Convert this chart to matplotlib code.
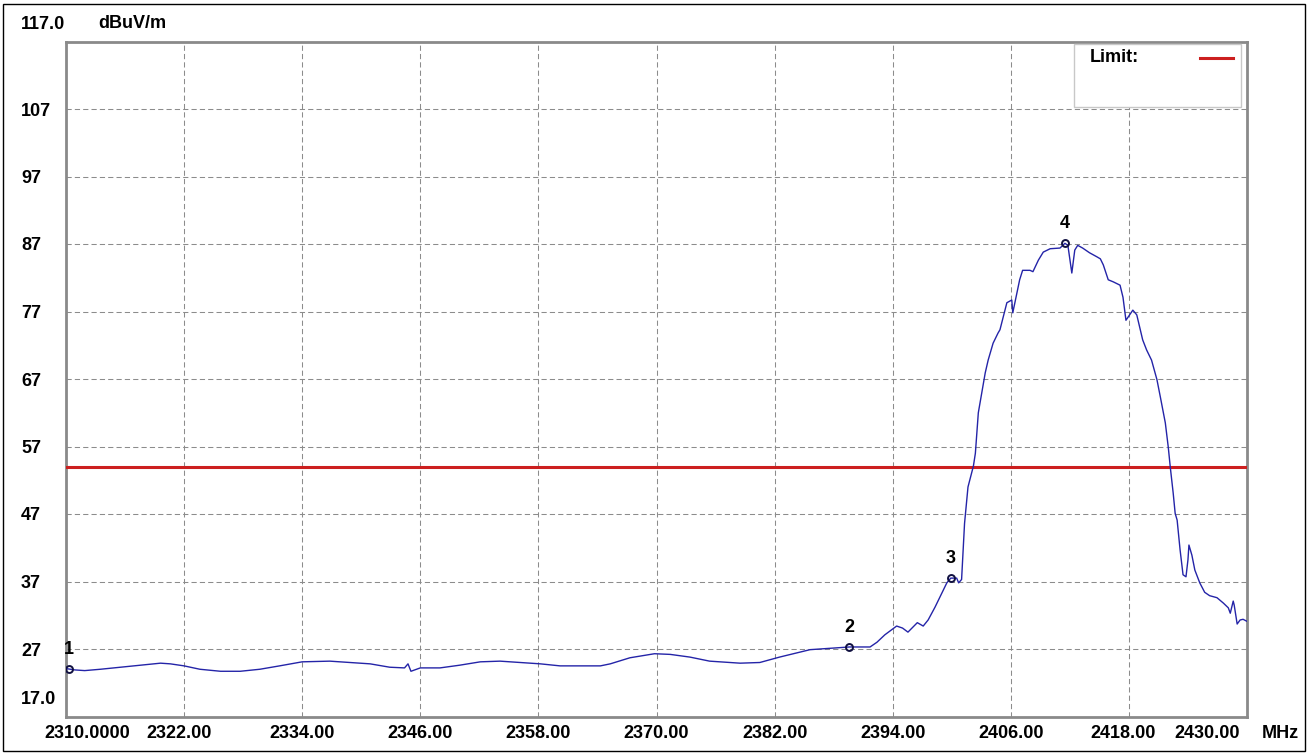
import matplotlib
matplotlib.use("Agg")
import matplotlib.pyplot as plt
import matplotlib.transforms as mtransforms
from matplotlib.patches import Rectangle

# ---------------- data ----------------
freq_mhz = [2310.0, 2310.9, 2311.9, 2313.5, 2315.5, 2317.5, 2319.6, 2320.6, 2322.0,
            2323.6, 2325.7, 2327.7, 2329.7, 2331.7, 2334.0, 2336.8, 2338.9, 2340.9,
            2342.9, 2344.4, 2344.75, 2345.05, 2346.0, 2348.0, 2350.0, 2352.1, 2354.1,
            2356.1, 2358.2, 2360.2, 2364.3, 2365.3, 2367.3, 2369.8, 2371.4, 2373.4,
            2375.4, 2378.5, 2380.5, 2382.5, 2385.6, 2387.6, 2389.6, 2391.7, 2392.4,
            2393.2, 2394.4, 2395.0, 2395.55, 2396.5, 2397.1, 2397.6, 2398.3, 2399.0,
            2399.5, 2399.9, 2400.5, 2400.7, 2401.0, 2401.3, 2401.65, 2402.2, 2402.4,
            2402.7, 2403.1, 2403.4, 2403.7, 2404.2, 2404.7, 2404.9, 2405.6, 2406.1,
            2406.2, 2406.9, 2407.2, 2407.95, 2408.25, 2408.8, 2409.3, 2410.0, 2411.0,
            2411.5, 2411.8, 2412.2, 2412.5, 2412.8, 2413.3, 2414.0, 2414.75, 2415.1,
            2415.4, 2415.9, 2416.4, 2417.1, 2417.4, 2417.7, 2418.4, 2418.8, 2419.4,
            2419.8, 2420.3, 2420.85, 2421.2, 2421.7, 2422.0, 2422.2, 2422.5, 2422.7,
            2422.9, 2423.2, 2423.5, 2423.8, 2424.0, 2424.1, 2424.4, 2424.7, 2425.2,
            2425.7, 2426.2, 2426.95, 2427.6, 2428.1, 2428.3, 2428.6, 2428.7, 2429.0,
            2429.3, 2429.6, 2430.0]
level_dbuv = [24.1, 23.9, 23.8, 24.0, 24.3, 24.6, 24.9, 24.8, 24.5,
              24.0, 23.7, 23.7, 24.0, 24.5, 25.1, 25.2, 25.0, 24.8,
              24.3, 24.2, 24.8, 23.7, 24.2, 24.2, 24.6, 25.1, 25.2,
              25.0, 24.8, 24.5, 24.5, 24.8, 25.7, 26.3, 26.2, 25.8,
              25.2, 24.9, 25.0, 25.8, 26.9, 27.1, 27.3, 27.3, 28.0,
              29.1, 30.4, 30.1, 29.5, 30.9, 30.4, 31.3, 33.2, 35.3,
              36.8, 37.5, 37.5, 36.8, 37.3, 45.6, 51.0, 54.1, 56.0,
              62.0, 65.4, 67.9, 69.8, 72.3, 73.8, 74.3, 78.3, 78.7,
              76.8, 81.7, 83.1, 83.1, 82.9, 84.6, 85.8, 86.3, 86.4,
              87.1, 86.8, 82.7, 86.1, 86.8, 86.4, 85.7, 85.1, 84.8,
              83.9, 81.7, 81.4, 80.9, 79.1, 75.7, 77.2, 76.5, 72.8,
              71.3, 69.8, 66.9, 64.3, 60.5, 56.9, 54.0, 50.1, 47.1,
              46.1, 41.7, 38.0, 37.7, 40.2, 42.4, 40.9, 38.7, 36.8,
              35.4, 34.9, 34.6, 33.8, 33.1, 32.3, 34.1, 33.5, 30.7,
              31.3, 31.4, 31.1]

limit_level = 54.0
limit_label = "Limit:"

marker_ids = ["1", "2", "3", "4"]
marker_freq = [2310.3, 2389.6, 2399.9, 2411.5]
marker_level = [24.0, 27.3, 37.5, 87.1]

xticks = [2310, 2322, 2334, 2346, 2358, 2370, 2382, 2394, 2406, 2418, 2430]
xtick_labels = ["2310.0000", "2322.00", "2334.00", "2346.00", "2358.00", "2370.00",
                "2382.00", "2394.00", "2406.00", "2418.00", "2430.00"]
yticks = [17, 27, 37, 47, 57, 67, 77, 87, 97, 107, 117]
ytick_labels = ["17.0", "27", "37", "47", "57", "67", "77", "87", "97", "107", "117.0"]
x_unit = "MHz"
y_unit = "dBuV/m"

# ---------------- figure ----------------
W, H = 1312, 754
fig = plt.figure(figsize=(W / 100, H / 100), dpi=100)
fig.patch.set_facecolor("white")

ax = fig.add_axes([66 / W, (H - 716.5) / H, 1181 / W, 675 / H])
ax.set_xlim(2310, 2430)
ax.set_ylim(17, 117)

font = dict(family=["Liberation Sans", "DejaVu Sans"], size=13, weight="bold")

# grid
grid_kw = dict(color="#8c8c8c", lw=0.75, ls=(0, (5, 3)), zorder=1)
for xv in xticks[1:-1]:
    ax.axvline(xv, **grid_kw)
for yv in yticks[1:-1]:
    ax.axhline(yv, **grid_kw)

# limit
ax.axhline(limit_level, color="#cc1f1f", lw=2.2, zorder=3)

# trace
ax.plot(freq_mhz, level_dbuv, color="#2424a8", lw=1.0, zorder=4)

# markers
ax.plot(marker_freq, marker_level, ls="none", marker="o", ms=5, mfc="none",
        mec="#101040", mew=1.4, zorder=5)
for mid, fx, ly in zip(marker_ids, marker_freq, marker_level):
    ax.annotate(mid, (fx, ly), xytext=(0, 14), textcoords="offset points",
                ha="center", va="center", color="black", zorder=6, **font)

# spines
for sp in ax.spines.values():
    sp.set_color("#8a8a8a")
    sp.set_linewidth(2.0)

# ticks
ax.set_xticks(xticks, labels=xtick_labels, **font)
ax.set_yticks(yticks, labels=ytick_labels, **font)
ax.tick_params(axis="both", length=0)
ax.tick_params(axis="x", pad=6)
ax.tick_params(axis="y", pad=32.4)
for lbl in ax.get_yticklabels():
    lbl.set_horizontalalignment("left")

x_shift = {0: 21, 1: -5, 9: -6, 10: -40}
for i, lbl in enumerate(ax.get_xticklabels()):
    if i in x_shift:
        lbl.set_transform(lbl.get_transform() +
                          mtransforms.ScaledTranslation(x_shift[i] / 100, 0, fig.dpi_scale_trans))
ylbls = ax.get_yticklabels()
for i in (0, len(ylbls) - 1):
    ylbls[i].set_transform(ylbls[i].get_transform() +
                           mtransforms.ScaledTranslation(0, 19 / 100, fig.dpi_scale_trans))

# unit labels
fig.text(1280 / W, 1 - 733 / H, x_unit, ha="center", va="center", **font)
fig.text(98 / W, 1 - 23 / H, y_unit, ha="left", va="center", **font)

# legend box
ax.add_patch(Rectangle((0.8535, 0.903), 0.1414, 0.0933, transform=ax.transAxes,
                       facecolor="white", edgecolor="#c8c8c8", lw=1.0, zorder=7))
ax.text(0.867, 0.976, limit_label, transform=ax.transAxes, ha="left", va="center",
        zorder=8, **font)
ax.plot([0.960, 0.988], [0.976, 0.976], transform=ax.transAxes, color="#cc1f1f",
        lw=2.2, zorder=8)

# outer frame
fig.patches.append(Rectangle((3 / W, 3 / H), 1302 / W, 747 / H, transform=fig.transFigure,
                             facecolor="none", edgecolor="black", lw=1.0))

fig.savefig("out.png", dpi=100)
